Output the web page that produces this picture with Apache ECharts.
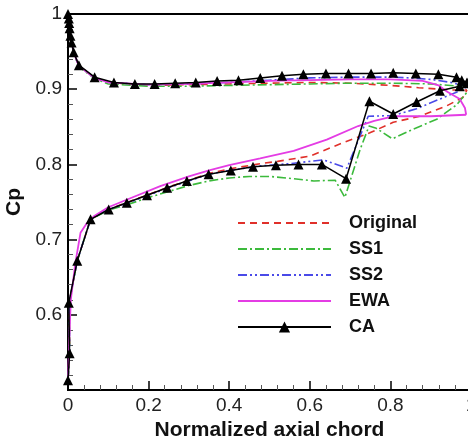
<!DOCTYPE html>
<html>
<head>
<meta charset="utf-8">
<script src="https://cdn.jsdelivr.net/npm/echarts@6/dist/echarts.min.js"></script>
<style>html,body{margin:0;padding:0;background:#fff}#c{width:468px;height:442px}</style>
</head>
<body>
<div id="c"></div>
<script>
const seriesNames = ['Original', 'SS1', 'SS2', 'EWA', 'CA'];
const xTicks = [0, 0.2, 0.4, 0.6, 0.8, 1];
const yTicks = [0.5, 0.6, 0.7, 0.8, 0.9, 1];

// Suction side (upper branch) [x, Cp]
const originalUpper = [[0,1.0],[0.004,0.98],[0.009,0.962],[0.014,0.949],[0.027,0.931],[0.066,0.915],[0.1,0.909],[0.2,0.905],[0.3,0.906],[0.4,0.907],[0.5,0.908],[0.6,0.909],[0.7,0.908],[0.8,0.905],[0.87,0.902],[0.95,0.899],[0.99,0.899]];
const ss1Upper = [[0,1.0],[0.004,0.98],[0.009,0.961],[0.014,0.948],[0.027,0.930],[0.066,0.914],[0.1,0.907],[0.2,0.904],[0.3,0.904],[0.4,0.905],[0.5,0.906],[0.6,0.907],[0.7,0.908],[0.8,0.908],[0.9,0.907],[0.95,0.905],[0.99,0.903]];
const ss2Upper = [[0,1.0],[0.004,0.98],[0.009,0.962],[0.014,0.949],[0.027,0.931],[0.066,0.915],[0.1,0.909],[0.2,0.906],[0.3,0.907],[0.4,0.909],[0.5,0.912],[0.6,0.915],[0.7,0.916],[0.8,0.916],[0.85,0.915],[0.9,0.913],[0.95,0.909],[0.98,0.905],[0.99,0.903]];
const ewaUpper = [[0,1.0],[0.004,0.98],[0.009,0.962],[0.014,0.949],[0.027,0.931],[0.066,0.915],[0.1,0.909],[0.2,0.906],[0.3,0.907],[0.4,0.909],[0.5,0.911],[0.6,0.912],[0.7,0.913],[0.8,0.913],[0.88,0.911],[0.92,0.905],[0.94,0.897],[0.972,0.887],[0.985,0.875],[0.988,0.866]];
const caUpper = [[0,1.0],[0.002,0.994],[0.003,0.988],[0.004,0.981],[0.006,0.971],[0.009,0.962],[0.014,0.949],[0.027,0.932],[0.066,0.916],[0.114,0.909],[0.166,0.907],[0.215,0.907],[0.266,0.908],[0.317,0.909],[0.370,0.911],[0.423,0.912],[0.477,0.915],[0.531,0.918],[0.584,0.920],[0.640,0.921],[0.696,0.921],[0.752,0.921],[0.807,0.922],[0.863,0.921],[0.919,0.920],[0.964,0.916],[0.977,0.912],[0.990,0.909]];

// Pressure side (lower branch) [x, Cp]
const originalLower = [[0,0.513],[0.004,0.549],[0.003,0.616],[0.023,0.672],[0.056,0.727],[0.1,0.740],[0.15,0.750],[0.2,0.760],[0.25,0.770],[0.3,0.779],[0.35,0.788],[0.4,0.794],[0.477,0.801],[0.52,0.804],[0.6,0.811],[0.683,0.829],[0.749,0.842],[0.807,0.856],[0.873,0.864],[0.94,0.878],[0.98,0.889],[0.99,0.899]];
const ss1Lower = [[0,0.513],[0.004,0.549],[0.003,0.616],[0.023,0.672],[0.056,0.727],[0.1,0.739],[0.15,0.747],[0.2,0.756],[0.25,0.764],[0.3,0.772],[0.35,0.778],[0.4,0.782],[0.45,0.784],[0.5,0.784],[0.56,0.781],[0.61,0.778],[0.663,0.779],[0.687,0.756],[0.725,0.820],[0.747,0.851],[0.765,0.848],[0.805,0.834],[0.857,0.847],[0.915,0.860],[0.964,0.879],[0.99,0.896]];
const ss2Lower = [[0,0.513],[0.004,0.549],[0.003,0.616],[0.023,0.672],[0.056,0.727],[0.1,0.740],[0.15,0.749],[0.2,0.759],[0.25,0.769],[0.3,0.778],[0.35,0.787],[0.4,0.792],[0.477,0.798],[0.55,0.801],[0.634,0.806],[0.692,0.795],[0.745,0.864],[0.807,0.865],[0.865,0.874],[0.923,0.887],[0.964,0.896],[0.99,0.903]];
const ewaLower = [[0,0.513],[0.004,0.58],[0.007,0.62],[0.018,0.668],[0.031,0.709],[0.047,0.722],[0.064,0.731],[0.1,0.743],[0.15,0.754],[0.229,0.771],[0.3,0.784],[0.35,0.792],[0.4,0.799],[0.477,0.808],[0.56,0.818],[0.642,0.833],[0.72,0.851],[0.76,0.858],[0.807,0.864],[0.9,0.864],[0.988,0.866]];
const caLower = [[0,0.513],[0.004,0.549],[0.002,0.616],[0.023,0.672],[0.056,0.727],[0.101,0.740],[0.146,0.749],[0.196,0.759],[0.246,0.769],[0.295,0.778],[0.349,0.787],[0.404,0.792],[0.459,0.797],[0.516,0.799],[0.572,0.800],[0.630,0.800],[0.690,0.781],[0.748,0.884],[0.807,0.867],[0.865,0.883],[0.923,0.898],[0.972,0.904],[0.990,0.908]];

const styles = {
  Original: { color: '#e0302a', type: [7, 5], width: 1.6 },
  SS1: { color: '#3cba3c', type: [9, 3, 2, 3], width: 1.6 },
  SS2: { color: '#4a4ae8', type: [9, 3, 2, 3, 2, 3], width: 1.6 },
  EWA: { color: '#e43ce4', type: 'solid', width: 1.8 },
  CA: { color: '#000000', type: 'solid', width: 1.5 }
};
const branches = {
  Original: [originalUpper, originalLower],
  SS1: [ss1Upper, ss1Lower],
  SS2: [ss2Upper, ss2Lower],
  EWA: [ewaUpper, ewaLower],
  CA: [caUpper, caLower]
};

const series = [];
seriesNames.forEach(name => {
  const st = styles[name];
  branches[name].forEach(data => {
    series.push({
      name: name,
      type: 'line',
      data: data,
      smooth: false,
      symbol: name === 'CA' ? 'triangle' : 'none',
      symbolSize: name === 'CA' ? 10 : 0,
      showSymbol: name === 'CA',
      itemStyle: { color: st.color },
      lineStyle: { color: st.color, type: st.type, width: st.width },
      emphasis: { disabled: true },
      animation: false
    });
  });
});

const legendData = seriesNames.map(n => n === 'CA'
  ? { name: n }
  : { name: n, itemStyle: { opacity: 0 } });

const chart = echarts.init(document.getElementById('c'));
chart.setOption({
  backgroundColor: '#fff',
  animation: false,
  grid: { left: 68, right: -3, top: 14, bottom: 52, show: true, borderColor: '#000', borderWidth: 2, outerBoundsMode: 'none', containLabel: false },
  xAxis: {
    type: 'value', min: xTicks[0], max: xTicks[xTicks.length - 1], interval: 0.2,
    name: 'Normalized axial chord', nameLocation: 'middle', nameGap: 23,
    nameTextStyle: { fontFamily: 'Liberation Sans', fontWeight: 'bold', fontSize: 21, color: '#111' },
    axisLine: { lineStyle: { color: '#000', width: 2 } },
    axisTick: { inside: true, length: 9, lineStyle: { color: '#000', width: 1.5 } },
    minorTick: { show: true, splitNumber: 5, length: 5, lineStyle: { color: '#555', width: 1 } },
    splitLine: { show: false },
    axisLabel: { fontFamily: 'Liberation Sans', fontSize: 19, color: '#222', margin: 6, hideOverlap: false }
  },
  yAxis: {
    type: 'value', min: yTicks[0], max: yTicks[yTicks.length - 1], interval: 0.1,
    name: 'Cp', nameLocation: 'middle', nameGap: 43, nameRotate: 90,
    nameTextStyle: { fontFamily: 'Liberation Sans', fontWeight: 'bold', fontSize: 21, color: '#111' },
    axisLine: { lineStyle: { color: '#000', width: 2 } },
    axisTick: { inside: true, length: 9, lineStyle: { color: '#000', width: 1.5 } },
    minorTick: { show: true, splitNumber: 5, length: 5, lineStyle: { color: '#555', width: 1 } },
    splitLine: { show: false },
    axisLabel: { fontFamily: 'Liberation Sans', fontSize: 19, color: '#222', margin: 6, showMinLabel: false }
  },
  legend: {
    orient: 'vertical', left: 232, top: 209,
    itemWidth: 93, itemHeight: 14, itemGap: 8,
    data: legendData,
    textStyle: { fontFamily: 'Liberation Sans', fontWeight: 'bold', fontSize: 18, color: '#111', padding: [0, 0, 0, 13] }
  },
  series: series
});
</script>
</body>
</html>
